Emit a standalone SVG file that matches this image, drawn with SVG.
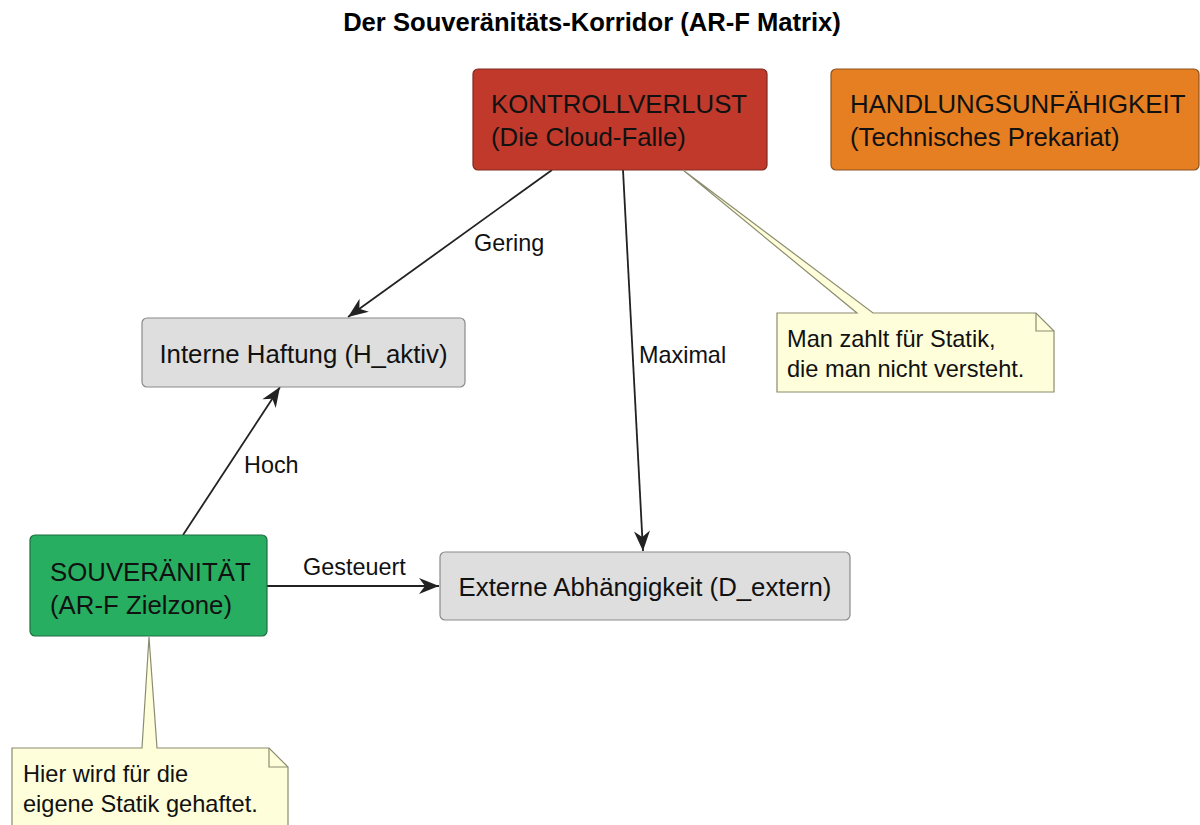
<svg xmlns="http://www.w3.org/2000/svg" width="1200" height="825" viewBox="0 0 1200 825">
  <defs>
    <style>
      .title { font-family: "Liberation Sans", Arial, sans-serif; font-size: 25.6px; font-weight: bold; fill: #000; }
      .node-text { font-family: "Liberation Sans", Arial, sans-serif; font-size: 25.8px; fill: #111; }
      .label { font-family: "Liberation Sans", Arial, sans-serif; font-size: 23.4px; fill: #111; }
      .note-text { font-family: "Liberation Sans", Arial, sans-serif; font-size: 23.6px; fill: #111; }
      .edge { stroke: #222; stroke-width: 1.8; fill: none; }
      .note { fill: #FEFEDA; stroke: #8C8C70; stroke-width: 1.2; }
      .fold { fill: none; stroke: #8C8C70; stroke-width: 1.2; }
      .gray { fill: #DEDEDE; stroke: #8A8A8A; stroke-width: 1.2; }
    </style>
    <marker id="arrow" markerUnits="userSpaceOnUse" markerWidth="22" markerHeight="20" viewBox="0 0 22 20" refX="21" refY="10" orient="auto">
      <path d="M1,2 L21,10 L1,18 L7,10 Z" fill="#222"/>
    </marker>
  </defs>

  <text class="title" x="592" y="31" text-anchor="middle">Der Souveränitäts-Korridor (AR-F Matrix)</text>

  <!-- connectors -->
  <g id="connectors">
    <path class="edge" d="M552,170 L348,317" marker-end="url(#arrow)"/>
    <text class="label" x="474" y="251">Gering</text>
    <path class="edge" d="M623,170 L643,551" marker-end="url(#arrow)"/>
    <text class="label" x="639" y="363">Maximal</text>
    <path class="edge" d="M183,535 L280,387" marker-end="url(#arrow)"/>
    <text class="label" x="244" y="473">Hoch</text>
    <path class="edge" d="M267,586 L439,586" marker-end="url(#arrow)"/>
    <text class="label" x="303" y="575">Gesteuert</text>
  </g>

  <!-- nodes -->
  <g id="kontrollverlust">
    <rect x="473" y="69" width="294" height="101" rx="5" fill="#C0392B" stroke="#7E2A22" stroke-width="1.2"/>
    <text class="node-text" x="491" y="113">KONTROLLVERLUST</text>
    <text class="node-text" x="491" y="146">(Die Cloud-Falle)</text>
  </g>

  <g id="handlungsunfaehigkeit">
    <rect x="831" y="69" width="368" height="101" rx="5" fill="#E67E22" stroke="#8A5320" stroke-width="1.2"/>
    <text class="node-text" x="850" y="113">HANDLUNGSUNFÄHIGKEIT</text>
    <text class="node-text" x="850" y="146">(Technisches Prekariat)</text>
  </g>

  <g id="interne-haftung">
    <rect class="gray" x="142" y="318" width="323" height="69" rx="5"/>
    <text class="node-text" x="303.5" y="363" text-anchor="middle">Interne Haftung (H_aktiv)</text>
  </g>

  <g id="souveraenitaet">
    <rect x="30" y="535" width="237" height="101" rx="5" fill="#27AE60" stroke="#1E6E40" stroke-width="1.2"/>
    <text class="node-text" x="50" y="581">SOUVERÄNITÄT</text>
    <text class="node-text" x="50" y="614">(AR-F Zielzone)</text>
  </g>

  <g id="externe-abhaengigkeit">
    <rect class="gray" x="440" y="552" width="410" height="68" rx="5"/>
    <text class="node-text" x="645" y="596" text-anchor="middle">Externe Abhängigkeit (D_extern)</text>
  </g>

  <!-- notes -->
  <g id="note-cloud">
    <path class="note" d="M777,313 L857,313 L683,170 L873,313 L1036,313 L1054,331 L1054,392 L777,392 Z"/>
    <path class="fold" d="M1036,313 L1036,331 L1054,331"/>
    <text class="note-text" x="787" y="347">Man zahlt für Statik,</text>
    <text class="note-text" x="787" y="377">die man nicht versteht.</text>
  </g>

  <g id="note-statik">
    <path class="note" d="M12,748 L142,748 L149,637 L157,748 L269,748 L288,767 L288,830 L12,830 Z"/>
    <path class="fold" d="M269,748 L269,767 L288,767"/>
    <text class="note-text" x="23" y="782">Hier wird für die</text>
    <text class="note-text" x="23" y="812">eigene Statik gehaftet.</text>
  </g>
</svg>
